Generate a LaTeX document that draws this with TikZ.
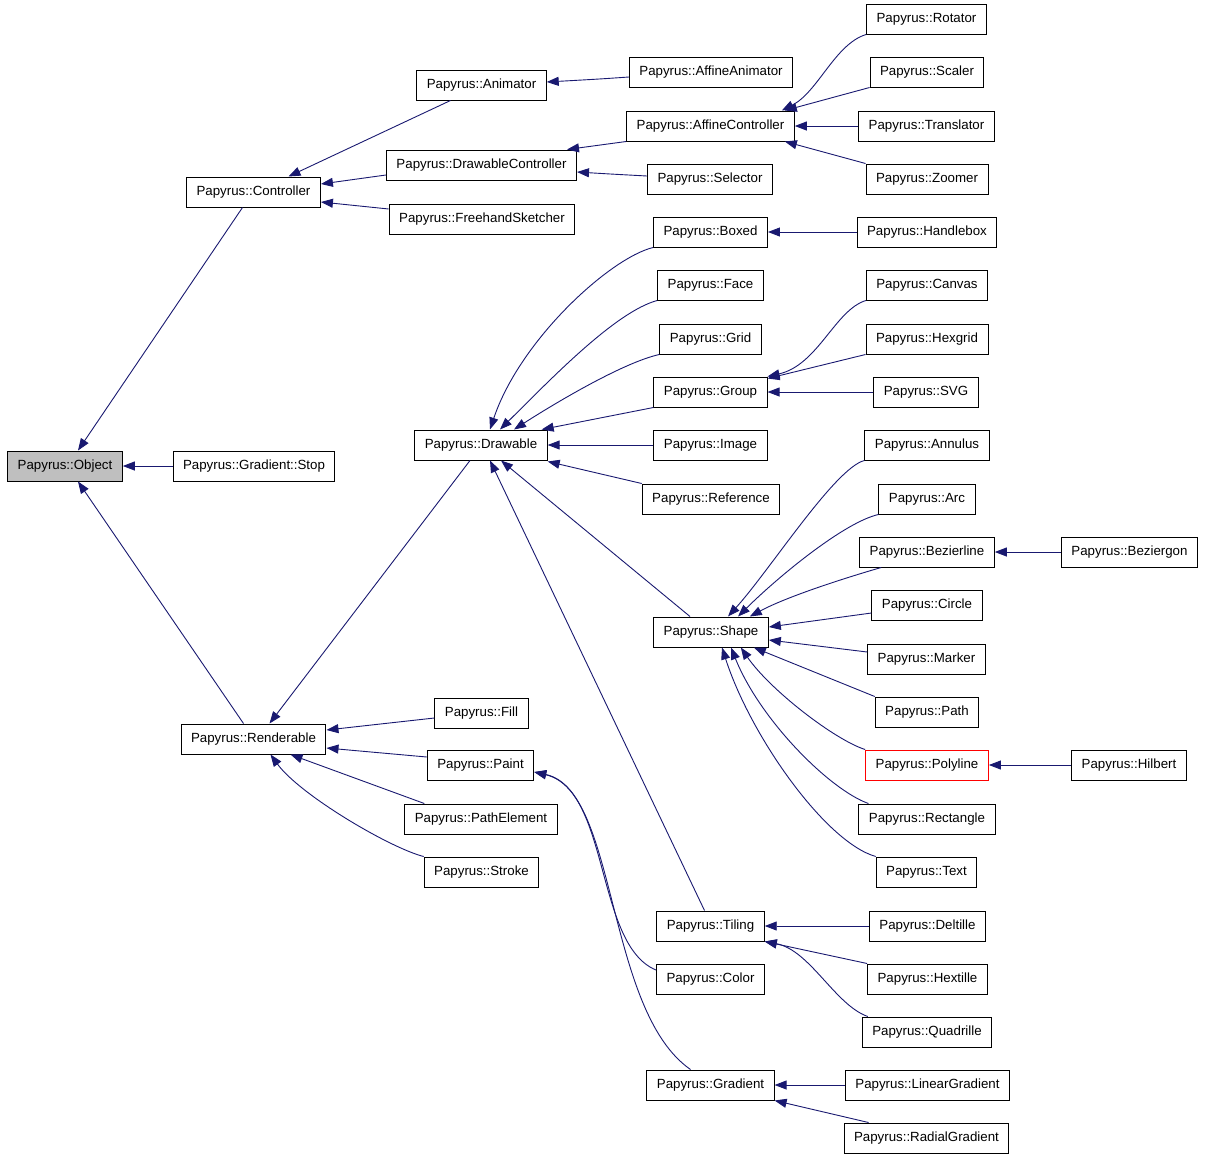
\documentclass[tikz,border=0pt]{standalone}
\usepackage{fontspec}
\setmainfont{Liberation Sans}
\usepackage{tikz}
\usetikzlibrary{arrows.meta}

\begin{document}
\begin{tikzpicture}[x=1pt, y=-1pt]
			\definecolor{edgeblue}{HTML}{191970}
			\tikzset{box/.style={shape = rectangle, draw = black, line width = 1pt, fill = white, minimum height = 30pt, inner xsep = 10pt, font = \fontsize{13.3}{16}\selectfont}}
			\tikzset{root/.style={box, fill = black!25}}
			\tikzset{marked/.style={box, draw = red}}
			\tikzset{edge/.style={-{Triangle[length = 12pt, width = 9pt]}, draw = edgeblue, line width = 0.9pt}}
			\useasboundingbox (0, 0) rectangle (1205, 1160);
			%vertices
			\node[root] (obj) at (65, 466) {Papyrus::Object};
			\node[box] (stop) at (254, 466) {Papyrus::Gradient::Stop};
			\node[box] (ctrl) at (253.5, 192) {Papyrus::Controller};
			\node[box] (rend) at (253.5, 739) {Papyrus::Renderable};
			\node[box] (anim) at (481.5, 85) {Papyrus::Animator};
			\node[box] (dctrl) at (481.5, 165) {Papyrus::DrawableController};
			\node[box] (fhs) at (482, 219) {Papyrus::FreehandSketcher};
			\node[box] (aanim) at (711, 72) {Papyrus::AffineAnimator};
			\node[box] (actrl) at (710.5, 126) {Papyrus::AffineController};
			\node[box] (sel) at (710, 179) {Papyrus::Selector};
			\node[box] (rot) at (926.5, 19) {Papyrus::Rotator};
			\node[box] (scal) at (927, 72) {Papyrus::Scaler};
			\node[box] (trans) at (926.5, 126) {Papyrus::Translator};
			\node[box] (zoom) at (927, 179) {Papyrus::Zoomer};
			\node[box] (drw) at (481, 445) {Papyrus::Drawable};
			\node[box] (boxed) at (710.5, 232) {Papyrus::Boxed};
			\node[box] (hbox) at (927, 232) {Papyrus::Handlebox};
			\node[box] (face) at (710.5, 285) {Papyrus::Face};
			\node[box] (grid) at (710.5, 339) {Papyrus::Grid};
			\node[box] (group) at (710.5, 392) {Papyrus::Group};
			\node[box] (canvas) at (927, 285) {Papyrus::Canvas};
			\node[box] (hexgrid) at (927, 339) {Papyrus::Hexgrid};
			\node[box] (svg) at (926, 392) {Papyrus::SVG};
			\node[box] (image) at (710.5, 445) {Papyrus::Image};
			\node[box] (ref) at (711, 499) {Papyrus::Reference};
			\node[box] (annulus) at (927, 445) {Papyrus::Annulus};
			\node[box] (arc) at (927, 499) {Papyrus::Arc};
			\node[box] (bzl) at (927, 552) {Papyrus::Bezierline};
			\node[box] (bzg) at (1129.5, 552) {Papyrus::Beziergon};
			\node[box] (circle) at (927, 605) {Papyrus::Circle};
			\node[box] (marker) at (926.5, 659) {Papyrus::Marker};
			\node[box] (path) at (927, 712) {Papyrus::Path};
			\node[marked] (poly) at (927, 765) {Papyrus::Polyline};
			\node[box] (hilbert) at (1129, 765) {Papyrus::Hilbert};
			\node[box] (rect) at (927, 819) {Papyrus::Rectangle};
			\node[box] (text) at (926.5, 872) {Papyrus::Text};
			\node[box] (shape) at (711, 632) {Papyrus::Shape};
			\node[box] (fill) at (481.5, 713) {Papyrus::Fill};
			\node[box] (paint) at (480.5, 765) {Papyrus::Paint};
			\node[box] (pel) at (481, 819) {Papyrus::PathElement};
			\node[box] (stroke) at (481.5, 872) {Papyrus::Stroke};
			\node[box] (tiling) at (710.5, 926) {Papyrus::Tiling};
			\node[box] (color) at (710.5, 979) {Papyrus::Color};
			\node[box] (grad) at (710.5, 1085) {Papyrus::Gradient};
			\node[box] (delt) at (927.5, 926) {Papyrus::Deltille};
			\node[box] (hext) at (927.5, 979) {Papyrus::Hextille};
			\node[box] (quad) at (927, 1032) {Papyrus::Quadrille};
			\node[box] (lgrad) at (927.5, 1085) {Papyrus::LinearGradient};
			\node[box] (rgrad) at (926.5, 1138) {Papyrus::RadialGradient};
			%edges
			\draw[edge] ([xshift=-11pt]ctrl.south) -- ([xshift=13pt]obj.north);
			\draw[edge] (stop) -- (obj);
			\draw[edge] ([xshift=-10pt]rend.north) -- ([xshift=13pt]obj.south);
			\draw[edge] ([xshift=-31pt]anim.south) -- ([xshift=35pt]ctrl.north);
			\draw[edge] ([yshift=-10pt]dctrl.west) -- ([yshift=8pt]ctrl.east);
			\draw[edge] ([yshift=10pt]fhs.west) -- ([yshift=-10pt]ctrl.east);
			\draw[edge] ([yshift=-5pt]aanim.west) .. controls (600, 79) .. ([yshift=3pt]anim.east);
			\draw[edge] (actrl.south west) -- ([xshift=-10pt]dctrl.north east);
			\draw[edge] ([yshift=3pt]sel.west) .. controls (610, 174) .. ([yshift=-7pt]dctrl.east);
			\draw[edge] (rot.south west) .. controls (835, 44) and (818, 92) .. ([xshift=-13pt]actrl.north east);
			\draw[edge] (scal.south west) -- ([xshift=-10pt]actrl.north east);
			\draw[edge] (trans) -- (actrl);
			\draw[edge] (zoom.north west) -- ([xshift=-10pt]actrl.south east);
			\draw[edge] ([xshift=-11pt]drw.south) -- ([xshift=16pt]rend.north);
			\draw[edge] (boxed.south west) .. controls (610, 258) and (520, 340) .. ([xshift=9pt]drw.north);
			\draw[edge] (face.south west) .. controls (615, 312) and (550, 380) .. ([xshift=19pt]drw.north);
			\draw[edge] (grid.south west) .. controls (625, 362) and (560, 400) .. ([xshift=33pt]drw.north);
			\draw[edge] (group.south west) -- ([xshift=-6pt]drw.north east);
			\draw[edge] (image) -- (drw);
			\draw[edge] (ref.north west) -- ([yshift=-1pt]drw.south east);
			\draw[edge] (hbox) -- (boxed);
			\draw[edge] (canvas.south west) .. controls (835, 310) and (818, 365) .. (group.north east);
			\draw[edge] (hexgrid.south west) -- ([yshift=-2pt]group.north east);
			\draw[edge] (svg) -- (group);
			\draw[edge] ([xshift=-21pt]shape.north) -- ([xshift=20pt]drw.south);
			\draw[edge] ([xshift=-6pt]tiling.north) -- ([xshift=9pt]drw.south);
			\draw[edge] (annulus.south west) .. controls (835, 468) and (770, 570) .. ([xshift=17pt]shape.north);
			\draw[edge] (arc.south west) .. controls (845, 522) and (780, 575) .. ([xshift=27pt]shape.north);
			\draw[edge] ([xshift=22pt]bzl.south west) .. controls (855, 575) and (790, 595) .. ([xshift=-19pt]shape.north east);
			\draw[edge] ([yshift=-8pt]circle.west) -- ([yshift=5pt]shape.east);
			\draw[edge] ([yshift=7pt]marker.west) -- ([yshift=-8pt]shape.east);
			\draw[edge] (path.north west) -- ([xshift=-15pt]shape.south east);
			\draw[edge] (poly.north west) .. controls (835, 740) and (770, 690) .. ([xshift=-28pt]shape.south east);
			\draw[edge] ([xshift=10pt]rect.north west) .. controls (830, 790) and (760, 720) .. ([xshift=20pt]shape.south);
			\draw[edge] (text.north west) .. controls (825, 842) and (750, 735) .. ([xshift=11pt]shape.south);
			\draw[edge] (bzg) -- (bzl);
			\draw[edge] (hilbert) -- (poly);
			\draw[edge] ([yshift=-5pt]fill.west) -- ([yshift=9pt]rend.east);
			\draw[edge] ([yshift=8pt]paint.west) -- ([yshift=-9pt]rend.east);
			\draw[edge] ([xshift=20pt]pel.north west) -- ([xshift=37pt]rend.south);
			\draw[edge] (stroke.north west) .. controls (390, 848) and (300, 795) .. ([xshift=17pt]rend.south);
			\draw[edge] ([yshift=9pt]color.west) .. controls (595, 945) and (610, 790) .. ([yshift=-7pt]paint.east);
			\draw[edge] ([xshift=-20pt]grad.north) .. controls (605, 1010) and (618, 790) .. ([yshift=-7pt]paint.east);
			\draw[edge] (delt) -- (tiling);
			\draw[edge] (hext.north west) -- (tiling.south east);
			\draw[edge] ([xshift=6pt]quad.north west) .. controls (835, 1005) and (810, 950) .. (tiling.south east);
			\draw[edge] (lgrad) -- (grad);
			\draw[edge] ([xshift=25pt]rgrad.north west) -- (grad.south east);
\end{tikzpicture}
\end{document}
